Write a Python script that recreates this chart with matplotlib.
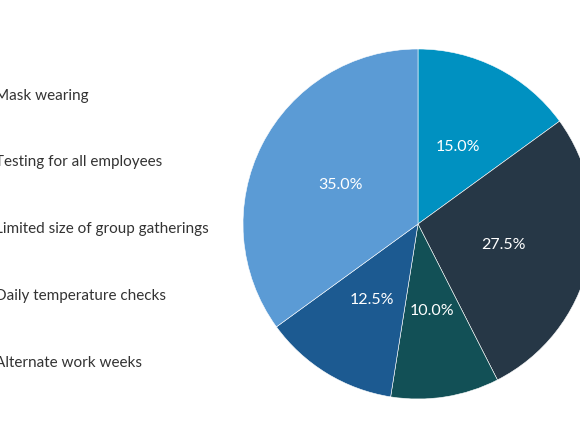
import matplotlib.pyplot as plt

# Data
labels = ['Mask wearing', 'Testing for all employees', 'Limited size of group gatherings',
          'Daily temperature checks', 'Alternate work weeks']
values = [15.0, 27.5, 10.0, 12.5, 35.0]
colors = ['#0091c1', '#263746', '#125056', '#1c5a91', '#5b9bd5']

plt.rcParams['font.family'] = ['Lato', 'DejaVu Sans']

W, H = 580, 435
fig = plt.figure(figsize=(W / 100, H / 100), dpi=100)

# pie centre (418, 225) px, radius 175 px
cx, cy, r = 418, 225, 175
ax = fig.add_axes([(cx - r) / W, (H - cy - r) / H, 2 * r / W, 2 * r / H])
wedges, texts, autotexts = ax.pie(values, colors=colors, startangle=90, counterclock=False,
                                  autopct='%.1f%%', pctdistance=0.5, radius=1,
                                  wedgeprops=dict(linewidth=0.4, edgecolor='white'),
                                  textprops=dict(color='white', fontsize=11.5))
ax.set_xlim(-1, 1)
ax.set_ylim(-1, 1)
ax.set_aspect('equal')
ax.axis('off')

# legend text (markers fall outside the canvas)
legend_y = [96, 162, 229, 296, 363]
for lab, y in zip(labels, legend_y):
    fig.text(-5 / W, 1 - y / H, lab, ha='left', va='center', fontsize=11, color='#333333')

fig.savefig('out.png', dpi=100)
